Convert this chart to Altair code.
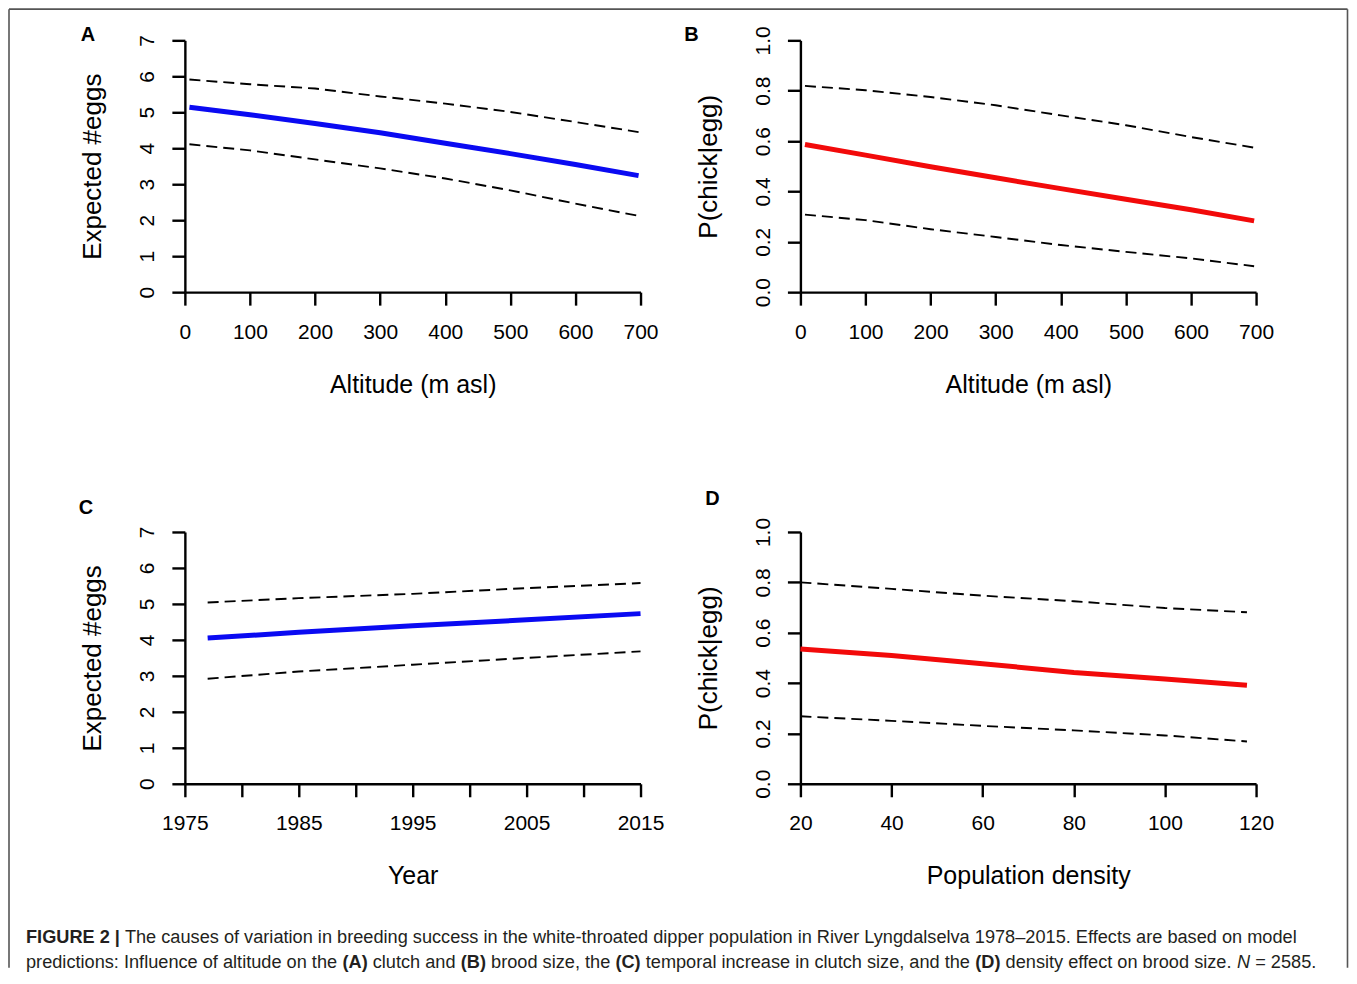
import altair as alt
import pandas as pd

FONT = "Liberation Sans"

# ---------------- data ----------------
a_alt = [7, 100, 200, 300, 400, 500, 600, 697]
a_fit = [5.14, 4.93, 4.69, 4.43, 4.14, 3.85, 3.55, 3.24]
a_upper = [5.91, 5.78, 5.66, 5.44, 5.24, 5.01, 4.73, 4.45]
a_lower = [4.11, 3.94, 3.69, 3.44, 3.16, 2.83, 2.46, 2.12]

b_alt = [7, 100, 200, 300, 400, 500, 600, 697]
b_fit = [0.586, 0.544, 0.498, 0.454, 0.411, 0.369, 0.327, 0.283]
b_upper = [0.819, 0.802, 0.775, 0.742, 0.702, 0.663, 0.616, 0.574]
b_lower = [0.308, 0.286, 0.250, 0.219, 0.187, 0.160, 0.134, 0.103]

c_year = [1977, 1985, 1995, 2005, 2015]
c_fit = [4.05, 4.21, 4.39, 4.56, 4.73]
c_upper = [5.04, 5.16, 5.28, 5.44, 5.58]
c_lower = [2.92, 3.12, 3.31, 3.50, 3.68]

d_density = [20, 40, 60, 80, 100, 118]
d_fit = [0.535, 0.509, 0.477, 0.442, 0.416, 0.391]
d_upper = [0.800, 0.774, 0.747, 0.725, 0.698, 0.681]
d_lower = [0.268, 0.250, 0.230, 0.212, 0.192, 0.168]

panel_letters = ["A", "B", "C", "D"]
x_titles = ["Altitude (m asl)", "Altitude (m asl)", "Year", "Population density"]
y_titles = ["Expected #eggs", "P(chick|egg)", "Expected #eggs", "P(chick|egg)"]

alt_ticks = [0, 100, 200, 300, 400, 500, 600, 700]
year_ticks = [1975, 1980, 1985, 1990, 1995, 2000, 2005, 2010, 2015]
density_ticks = [20, 40, 60, 80, 100, 120]
eggs_ticks = [0, 1, 2, 3, 4, 5, 6, 7]
prob_ticks = [0.0, 0.2, 0.4, 0.6, 0.8, 1.0]

caption_line1 = [
    ("FIGURE 2 |", "bold", "normal"),
    ("The causes of variation in breeding success in the white-throated dipper population in River Lyngdalselva 1978\u20132015. Effects are based on model", "normal", "normal"),
]
caption_line2 = [
    ("predictions: Influence of altitude on the", "normal", "normal"),
    ("(A)", "bold", "normal"),
    ("clutch and", "normal", "normal"),
    ("(B)", "bold", "normal"),
    ("brood size, the", "normal", "normal"),
    ("(C)", "bold", "normal"),
    ("temporal increase in clutch size, and the", "normal", "normal"),
    ("(D)", "bold", "normal"),
    ("density effect on brood size.", "normal", "normal"),
    ("N", "normal", "italic"),
    ("= 2585.", "normal", "normal"),
]

# ---------------- layout (pixels, relative to panel C's plot origin) ----------------
PW, PH = 456, 252
caption_x1 = [-159, -60]
caption_x2 = [-159, 157.7, 188, 276.1, 306.4, 430.9, 461.2, 791, 821.3, 1053, 1071.1]
caption_y = [406, 431]
letter_pos = [(-97, -5), (-109, -5), (-99, -24), (-88, -33)]
frame_l, frame_r, frame_t, frame_b = -176, 1163.5, -523.2, 436


def axis_x(title, values, fmt, label_expr=None):
    kw = dict(
        title=title, values=values, format=fmt, grid=False,
        domainColor="black", domainWidth=2.4, tickColor="black", tickWidth=2.4,
        tickSize=13, labelFont=FONT, labelFontSize=21, labelColor="black",
        labelPadding=16, labelFlush=False, labelOverlap=False,
        titleFont=FONT, titleFontSize=25, titleFontWeight="normal",
        titleColor="black", titlePadding=30,
    )
    if label_expr:
        kw["labelExpr"] = label_expr
    return alt.Axis(**kw)


def axis_y(title, values, fmt):
    return alt.Axis(
        title=title, values=values, format=fmt, grid=False,
        domainColor="black", domainWidth=2.4, tickColor="black", tickWidth=2.4,
        tickSize=13, labelFont=FONT, labelFontSize=21, labelColor="black",
        labelAngle=270, labelAlign="center", labelBaseline="alphabetic",
        labelPadding=18, labelFlush=False, labelOverlap=False,
        titleFont=FONT, titleFontSize=26, titleFontWeight="normal",
        titleColor="black", titlePadding=31,
    )


def panel(i, xs, fit, upper, lower, color, x_domain, x_ticks, x_fmt,
          y_domain, y_ticks, y_fmt, label_expr=None, extra=()):
    n = len(xs)
    df = pd.DataFrame({
        "x": xs * 3,
        "v": fit + upper + lower,
        "s": ["fit"] * n + ["upper"] * n + ["lower"] * n,
    })
    enc_x = alt.X("x:Q", scale=alt.Scale(domain=x_domain, nice=False, zero=False),
                  axis=axis_x(x_titles[i], x_ticks, x_fmt, label_expr))
    enc_y = alt.Y("v:Q", scale=alt.Scale(domain=y_domain, nice=False, zero=False),
                  axis=axis_y(y_titles[i], y_ticks, y_fmt))
    base = alt.Chart(df)
    bands = base.transform_filter(alt.datum.s != "fit").mark_line(
        color="black", strokeWidth=1.9, strokeDash=[11, 6]
    ).encode(x=enc_x, y=enc_y, detail="s:N")
    fitline = base.transform_filter(alt.datum.s == "fit").mark_line(
        color=color, strokeWidth=5
    ).encode(x=enc_x, y=enc_y)
    lx, ly = letter_pos[i]
    letter = alt.Chart(pd.DataFrame({"t": [panel_letters[i]]})).mark_text(
        font=FONT, fontSize=20, fontWeight="bold", align="center",
        baseline="middle", color="black"
    ).encode(text="t:N", x=alt.value(lx), y=alt.value(ly))
    return alt.layer(bands, fitline, letter, *extra).properties(width=PW, height=PH)


# ---------------- caption + frame (drawn in panel C's layer) ----------------
one = pd.DataFrame({"k": [0]})
extras = []
FR = dict(color="#555555", strokeWidth=1.6)
extras.append(alt.Chart(one).mark_rule(**FR).encode(
    x=alt.value(frame_l), y=alt.value(frame_t), y2=alt.value(frame_b)))
extras.append(alt.Chart(one).mark_rule(**FR).encode(
    x=alt.value(frame_l), x2=alt.value(frame_r), y=alt.value(frame_t)))
extras.append(alt.Chart(one).mark_rule(**FR).encode(
    x=alt.value(frame_r), y=alt.value(frame_t), y2=alt.value(frame_b)))
for line, xs_pos, yy in ((caption_line1, caption_x1, caption_y[0]),
                         (caption_line2, caption_x2, caption_y[1])):
    for (txt, w, st), x in zip(line, xs_pos):
        extras.append(alt.Chart(pd.DataFrame({"t": [txt]})).mark_text(
            font=FONT, fontSize=18.2, fontWeight=w, fontStyle=st, align="left",
            baseline="middle", color="#231f20"
        ).encode(text="t:N", x=alt.value(x), y=alt.value(yy)))

BLUE = "#0a0af2"
RED = "#f20a0a"

pA = panel(0, a_alt, a_fit, a_upper, a_lower, BLUE, [0, 700], alt_ticks, "d",
           [0, 7], eggs_ticks, "d")
pB = panel(1, b_alt, b_fit, b_upper, b_lower, RED, [0, 700], alt_ticks, "d",
           [0, 1], prob_ticks, ".1f")
pC = panel(2, c_year, c_fit, c_upper, c_lower, BLUE, [1975, 2015], year_ticks, "d",
           [0, 7], eggs_ticks, "d",
           label_expr="datum.value % 10 == 5 ? datum.label : ''", extra=extras)
pD = panel(3, d_density, d_fit, d_upper, d_lower, RED, [20, 120], density_ticks, "d",
           [0, 1], prob_ticks, ".1f")

chart = alt.concat(
    pA, pB, pC, pD, columns=2,
    spacing={"row": 240, "column": 160}, bounds="flush",
    padding={"left": 0, "top": 0, "right": 0, "bottom": 0},
).configure(font=FONT).configure_view(strokeWidth=0, stroke="transparent")

chart.save("out.html", embed_options={"renderer": "svg", "actions": False})
